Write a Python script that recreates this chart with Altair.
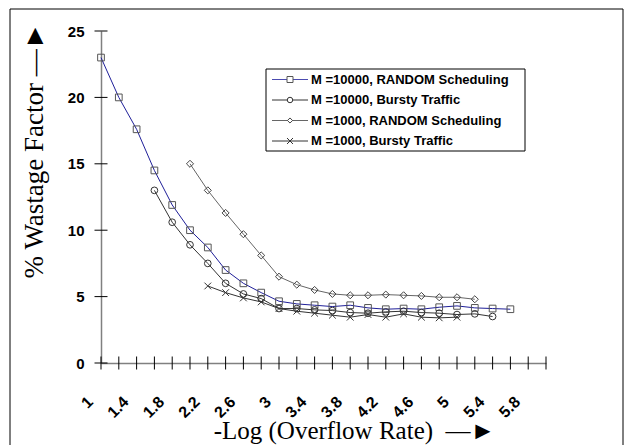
import altair as alt
import pandas as pd

series_names = [
    "M =10000, RANDOM Scheduling",
    "M =10000, Bursty Traffic",
    "M =1000, RANDOM Scheduling",
    "M =1000, Bursty Traffic",
]

x_s1 = [1.0, 1.2, 1.4, 1.6, 1.8, 2.0, 2.2, 2.4, 2.6, 2.8, 3.0, 3.2, 3.4, 3.6, 3.8, 4.0, 4.2, 4.4, 4.6, 4.8, 5.0, 5.2, 5.4, 5.6]
y_s1 = [23.0, 20.0, 17.6, 14.5, 11.9, 10.0, 8.7, 7.0, 6.0, 5.3, 4.65, 4.45, 4.35, 4.25, 4.35, 4.15, 4.05, 4.1, 4.05, 4.2, 4.3, 4.15, 4.1, 4.05]

x_s2 = [1.6, 1.8, 2.0, 2.2, 2.4, 2.6, 2.8, 3.0, 3.2, 3.4, 3.6, 3.8, 4.0, 4.2, 4.4, 4.6, 4.8, 5.0, 5.2, 5.4]
y_s2 = [13.0, 10.6, 8.9, 7.5, 6.0, 5.2, 4.85, 4.1, 4.1, 4.0, 3.95, 3.8, 3.75, 3.85, 3.9, 3.8, 3.75, 3.65, 3.7, 3.5]

x_s3 = [2.0, 2.2, 2.4, 2.6, 2.8, 3.0, 3.2, 3.4, 3.6, 3.8, 4.0, 4.2, 4.4, 4.6, 4.8, 5.0, 5.2]
y_s3 = [15.0, 13.0, 11.3, 9.7, 8.1, 6.5, 5.9, 5.5, 5.2, 5.1, 5.1, 5.15, 5.1, 5.05, 4.95, 4.95, 4.8]

x_s4 = [2.2, 2.4, 2.6, 2.8, 3.0, 3.2, 3.4, 3.6, 3.8, 4.0, 4.2, 4.4, 4.6, 4.8, 5.0]
y_s4 = [5.8, 5.3, 4.9, 4.6, 4.1, 3.9, 3.75, 3.6, 3.45, 3.65, 3.45, 3.7, 3.45, 3.4, 3.45]

x_ticks = [1.0, 1.2, 1.4, 1.6, 1.8, 2.0, 2.2, 2.4, 2.6, 2.8, 3.0, 3.2, 3.4,
           3.6, 3.8, 4.0, 4.2, 4.4, 4.6, 4.8, 5.0, 5.2, 5.4, 5.6, 5.8, 6.0]
x_labels = [1.0, 1.4, 1.8, 2.2, 2.6, 3.0, 3.4, 3.8, 4.2, 4.6, 5.0, 5.4, 5.8]
y_ticks = [0, 5, 10, 15, 20, 25]

line_colors = ["#1f1f99", "#333333", "#666666", "#333333"]
legend_line_colors = ["#4b4bb0", "#333333", "#666666", "#333333"]
marker_colors = ["#555555", "#333333", "#444444", "#333333"]
marker_shapes = ["square", "circle", "diamond", "M-1,-1L1,1M-1,1L1,-1"]
marker_sizes = [45, 45, 50, 45]
legend_marker_sizes = [36, 30, 26, 36]

rows = []
for name, xs, ys in zip(series_names, [x_s1, x_s2, x_s3, x_s4], [y_s1, y_s2, y_s3, y_s4]):
    for xv, yv in zip(xs, ys):
        rows.append({"x": xv, "y": yv, "series": name})
df = pd.DataFrame(rows)

xticks_df = pd.DataFrame({"x": x_ticks, "y": [0] * len(x_ticks)})
yticks_df = pd.DataFrame({"x": [1.0] * len(y_ticks), "y": y_ticks})
frame_df = pd.DataFrame({"a": [0]})
legend_df = pd.DataFrame({"series": series_names})

x_scale = alt.Scale(domain=[1, 6], nice=False, zero=False)
y_scale = alt.Scale(domain=[0, 25], nice=False, zero=True)

x_axis = alt.Axis(
    title="-Log (Overflow Rate) \u00a0\u2014\u25BA",
    values=x_labels, format="~g", grid=False, ticks=False, tickSize=0,
    labelAngle=315, labelAlign="right", labelBaseline="middle",
    labelPadding=36, labelOffset=-11, labelOverlap=False, labelFlush=False,
    labelFont="Liberation Sans", labelFontWeight="bold", labelFontSize=16, labelColor="black",
    domainColor="#808080", domainWidth=1.5,
    titleFont="Liberation Serif", titleFontWeight="normal", titleFontSize=25, titleColor="black",
    titleX=253, titleY=75, titleAlign="center", titleBaseline="alphabetic", titleAnchor="middle",
)
y_axis = alt.Axis(
    title="% Wastage Factor \u2014\u25BA",
    values=y_ticks, grid=False, ticks=False, tickSize=0,
    labelPadding=17, labelOverlap=False, labelFlush=False,
    labelFont="Liberation Sans", labelFontWeight="bold", labelFontSize=15, labelColor="black",
    domainColor="#808080", domainWidth=1.5,
    titleFont="Liberation Serif", titleFontWeight="normal", titleFontSize=27, titleColor="black",
    titleAngle=270, titleX=-59, titleY=119, titleAlign="center", titleBaseline="alphabetic",
)

X = alt.X("x:Q", scale=x_scale, axis=x_axis)
Y = alt.Y("y:Q", scale=y_scale, axis=y_axis)

frame = alt.Chart(frame_df).mark_rect(
    fill="transparent", stroke="black", strokeWidth=1
).encode(
    x=alt.value(-91), x2=alt.value(522), y=alt.value(-22), y2=alt.value(430)
)

lines = alt.Chart(df).mark_line(strokeWidth=1).encode(
    x=X, y=Y,
    stroke=alt.Stroke("series:N", scale=alt.Scale(domain=series_names, range=line_colors), legend=None),
)

point_layers = []
for name, shp, sz, mc in zip(series_names, marker_shapes, marker_sizes, marker_colors):
    point_layers.append(
        alt.Chart(df).transform_filter(alt.datum.series == name).mark_point(
            filled=False, size=sz, strokeWidth=1, color=mc, opacity=1, shape=shp
        ).encode(x=X, y=Y)
    )

xt = alt.Chart(xticks_df).mark_tick(orient="vertical", size=13, thickness=1, color="black", opacity=1).encode(x=X, y=Y)
yt = alt.Chart(yticks_df).mark_tick(orient="horizontal", size=13, thickness=1, color="black", opacity=1).encode(x=X, y=Y)

main = alt.layer(frame, lines, *point_layers, xt, yt)

# ---- legend box (built from marks) ----
LY = alt.Y("series:N", scale=alt.Scale(type="point", domain=series_names, range=[48.5, 110], padding=0), axis=None)

leg_box = alt.Chart(frame_df).mark_rect(fill="white", stroke="black", strokeWidth=1).encode(
    x=alt.value(165), x2=alt.value(424), y=alt.value(38), y2=alt.value(120)
)
leg_lines = alt.Chart(legend_df).mark_rule(strokeWidth=1).encode(
    x=alt.value(171), x2=alt.value(207), y=LY,
    color=alt.Color("series:N", scale=alt.Scale(domain=series_names, range=legend_line_colors), legend=None),
)
leg_marks = []
for name, shp, sz, mc in zip(series_names, marker_shapes, legend_marker_sizes, marker_colors):
    leg_marks.append(
        alt.Chart(legend_df).transform_filter(alt.datum.series == name).mark_point(
            filled=True, fill="white", stroke=mc, strokeWidth=1, size=sz, opacity=1, shape=shp
        ).encode(x=alt.value(189), y=LY)
    )
leg_text = alt.Chart(legend_df).mark_text(
    align="left", baseline="middle", font="Liberation Sans", fontWeight="bold", fontSize=13, color="black"
).encode(x=alt.value(210), y=LY, text="series:N")

legend = alt.layer(leg_box, leg_lines, *leg_marks, leg_text)

chart = alt.layer(main, legend).resolve_scale(y="independent", color="independent").properties(
    width=445, height=332, background="white",
    autosize=alt.AutoSizeParams(type="none"),
    padding={"left": 93, "top": 23, "right": 79, "bottom": 82},
).configure_view(stroke=None)

chart.save("out.html", embed_options={"renderer": "svg", "actions": False})
